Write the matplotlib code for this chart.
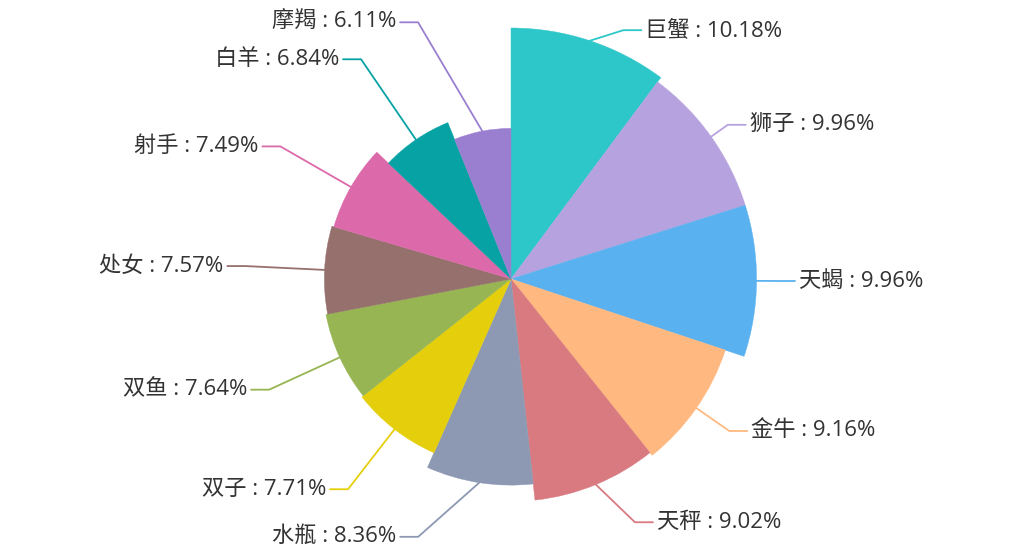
import numpy as np
import matplotlib
matplotlib.use("Agg")
import matplotlib.pyplot as plt
from matplotlib.patches import Wedge

plt.rcParams['font.family'] = ['Open Sans', 'Noto Sans CJK SC', 'DejaVu Sans']

# ---- data ----
names = ['巨蟹', '狮子', '天蝎', '金牛', '天秤', '水瓶', '双子', '双鱼', '处女', '射手', '白羊', '摩羯']
values = [10.18, 9.96, 9.96, 9.16, 9.02, 8.36, 7.71, 7.64, 7.57, 7.49, 6.84, 6.11]
colors = ['#2ec7c9', '#b6a2de', '#5ab1ef', '#ffb980', '#d87a80', '#8d98b3',
          '#e5cf0d', '#97b552', '#95706d', '#dc69aa', '#07a2a4', '#9a7fd1']

# ---- layout (pixels) ----
W, H = 1024, 559
cx, cy = 511, 279
r_max = 251
label_R = 266
# labels nudged by overlap avoidance (clock angle in degrees, radius)
label_override = {0: (24.3, 273), 4: (153.0, 273), 5: (199.8, 274), 11: (340.1, 273)}
seg2 = 18

fig = plt.figure(figsize=(W / 100, H / 100), dpi=100)
ax = fig.add_axes([0, 0, 1, 1])
ax.set_xlim(0, W)
ax.set_ylim(H, 0)
ax.set_aspect('equal')
ax.axis('off')

vals = np.array(values)
total = vals.sum()
fracs = vals / total
vmax = vals.max()
start = 0.0
for i, (n, v, f, c) in enumerate(zip(names, vals, fracs, colors)):
    th_s = start * 360
    th_e = (start + f) * 360
    start += f
    r = r_max * v / vmax
    ax.add_patch(Wedge((cx, cy), r, th_s - 90, th_e - 90, facecolor=c,
                       edgecolor=c, linewidth=0.3, antialiased=True))
    mid = np.radians((th_s + th_e) / 2)
    p0 = (cx + r * np.sin(mid), cy - r * np.cos(mid))
    if i in label_override:
        a, R = label_override[i]
        a = np.radians(a)
    else:
        a, R = mid, label_R
    p1 = (cx + R * np.sin(a), cy - R * np.cos(a))
    right = np.sin(a) >= 0
    dx = seg2 if right else -seg2
    p2 = (p1[0] + dx, p1[1])
    ax.plot([p0[0], p1[0], p2[0]], [p0[1], p1[1], p2[1]], color=c, lw=1.3,
            solid_joinstyle='round', solid_capstyle='round')
    pct = f * 100
    txt = f'{n} : {pct:.2f}%'
    ax.text(p2[0] + (4 if right else -4), p2[1], txt,
            ha='left' if right else 'right', va='center',
            fontsize=16, color='#333333')

fig.savefig('out.png', dpi=100)
